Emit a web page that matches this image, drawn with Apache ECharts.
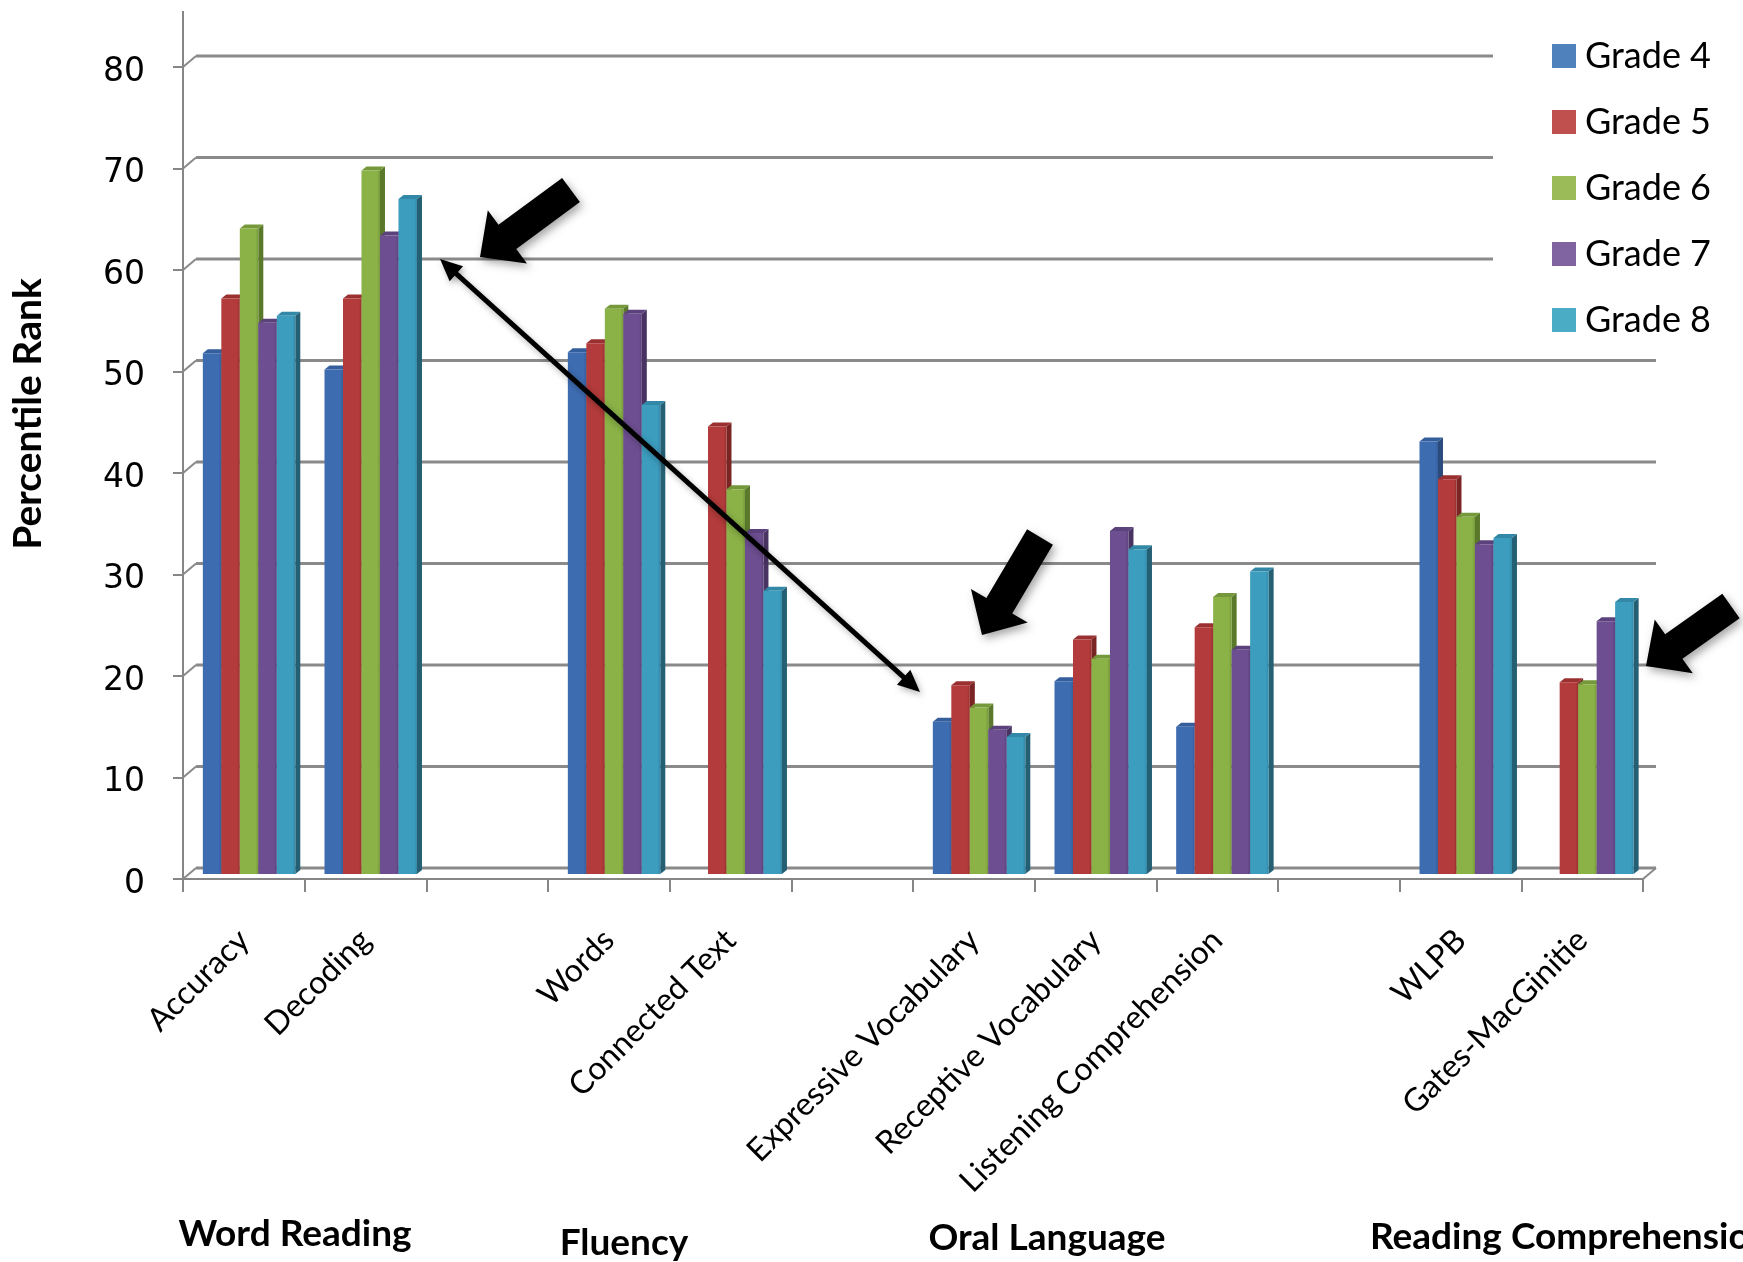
<!DOCTYPE html>
<html>
<head>
<meta charset="utf-8">
<script src="https://cdn.jsdelivr.net/npm/echarts@6/dist/echarts.min.js"></script>
<style>
  html, body { margin: 0; padding: 0; background: #ffffff; }
  #chart { width: 1743px; height: 1262px; }
</style>
</head>
<body>
<div id="chart"></div>
<script>
// Measures on the category axis; empty strings leave a gap between the test groups
const categories = [
  'Accuracy', 'Decoding', '',
  'Words', 'Connected Text', '',
  'Expressive Vocabulary', 'Receptive Vocabulary', 'Listening Comprehension', '',
  'WLPB', 'Gates-MacGinitie'
];

// Percentile rank per grade (null = not tested)
const grade4 = [51.3, 49.7, null, 51.4, null, null, 15.0, 19.0, 14.5, null, 42.6, null];
const grade5 = [56.7, 56.7, null, 52.3, 44.1, null, 18.6, 23.1, 24.3, null, 38.9, 18.9];
const grade6 = [63.6, 69.3, null, 55.7, 37.9, null, 16.4, 21.2, 27.3, null, 35.2, 18.7];
const grade7 = [54.3, 62.9, null, 55.2, 33.6, null, 14.2, 33.8, 22.1, null, 32.5, 24.9];
const grade8 = [55.0, 66.5, null, 46.2, 27.9, null, 13.5, 32.0, 29.8, null, 33.1, 26.8];

const seriesNames = ['Grade 4', 'Grade 5', 'Grade 6', 'Grade 7', 'Grade 8'];
const seriesValues = [grade4, grade5, grade6, grade7, grade8];

// Value-axis ticks
const yTicks = [0, 10, 20, 30, 40, 50, 60, 70, 80];

// Domain headings under the category labels
const groupLabels = ['Word Reading', 'Fluency', 'Oral Language', 'Reading Comprehension'];

// Legend swatch colours and the shaded faces of the 3-D columns
const legendColors = ['#4F81BD', '#C0504D', '#9BBB59', '#8064A2', '#4BACC6'];
const faces = [
  { front: '#3E6CB1', side: '#2A4B7C', top: '#345E9C' },
  { front: '#B33B3B', side: '#7A2424', top: '#9A3030' },
  { front: '#8AB247', side: '#5A792B', top: '#75993A' },
  { front: '#6D4E91', side: '#483363', top: '#5C427C' },
  { front: '#3C9DBF', side: '#245F74', top: '#3288A6' }
];

const DEPTH_X = 13, DEPTH_Y = 11;   // offset of the back wall
const BAR_DX = 5, BAR_DY = 4;        // depth of each column
const BAR_LIFT = 5;                  // columns stand mid-way into the floor

function makeRender(si) {
  return function (params, api) {
    const ci = api.value(0);
    const v = api.value(1);
    const base = api.coord([ci, 0]);
    const top = api.coord([ci, v]);
    const cw = api.size([1, 0])[0];
    const bw = cw * 0.152;
    const shift = cw * 0.043;
    const x0 = base[0] + shift - 2.5 * bw + si * bw;
    const x1 = x0 + bw;
    const yb = base[1] - BAR_LIFT;
    const yt = top[1] - BAR_LIFT;
    const c = faces[si];
    return {
      type: 'group',
      children: [
        { type: 'polygon', shape: { points: [[x1, yt], [x1 + BAR_DX, yt - BAR_DY], [x1 + BAR_DX, yb - BAR_DY], [x1, yb]] }, style: { fill: c.side } },
        { type: 'polygon', shape: { points: [[x0, yt], [x0 + BAR_DX, yt - BAR_DY], [x1 + BAR_DX, yt - BAR_DY], [x1, yt]] }, style: { fill: c.top } },
        { type: 'rect', shape: { x: x0, y: yt, width: bw, height: yb - yt },
          style: { fill: new echarts.graphic.LinearGradient(0, 0, 1, 0, [
            { offset: 0, color: c.front }, { offset: 0.85, color: c.front }, { offset: 1, color: c.top }
          ]) } }
      ]
    };
  };
}

const series = seriesNames.map(function (name, si) {
  const data = [];
  seriesValues[si].forEach(function (v, ci) { if (v != null) data.push([ci, v]); });
  return {
    name: name,
    type: 'custom',
    coordinateSystem: 'cartesian2d',
    renderItem: makeRender(si),
    encode: { x: 0, y: 1 },
    itemStyle: { color: legendColors[si] },
    data: data,
    z: 2
  };
});

const chart = echarts.init(document.getElementById('chart'), null, { renderer: 'canvas' });

chart.setOption({
  backgroundColor: '#ffffff',
  animation: false,
  grid: { left: 183, right: 100, top: 67, bottom: 383, containLabel: false },
  legend: {
    orient: 'vertical',
    left: 1547,
    top: 31,
    itemWidth: 24,
    itemHeight: 24,
    itemGap: 26,
    icon: 'rect',
    data: seriesNames,
    textStyle: { fontFamily: 'Lato', fontSize: 36, color: '#000', lineHeight: 40, padding: [0, 0, 0, 4] }
  },
  xAxis: {
    type: 'category',
    data: categories,
    boundaryGap: true,
    axisLine: { show: true, lineStyle: { color: '#868686', width: 2 } },
    axisTick: { show: true, length: 13, interval: 0, lineStyle: { color: '#868686', width: 2 } },
    axisLabel: { interval: 0, rotate: 45, margin: 56, fontFamily: 'Lato', fontSize: 32, color: '#000' },
    splitLine: { show: false }
  },
  yAxis: {
    type: 'value',
    min: 0,
    max: 80,
    interval: 10,
    axisLine: { show: true, lineStyle: { color: '#868686', width: 2 } },
    axisTick: { show: true, length: 10, lineStyle: { color: '#868686', width: 2 } },
    axisLabel: {
      margin: 38,
      formatter: '{n|{value}}',
      rich: { n: { fontFamily: 'DejaVu Sans', fontSize: 33, color: '#000', padding: [10, 0, 0, 0] } }
    },
    splitLine: { show: false }
  },
  series: series
});

// 3-D walls, floor, headings and callout arrows, placed from the axis scales
function drawDecorations() {
  const g = [];
  const cx0 = chart.convertToPixel({ xAxisIndex: 0 }, 0);
  const cx1 = chart.convertToPixel({ xAxisIndex: 0 }, 1);
  const cw = cx1 - cx0;
  const xl = cx0 - cw / 2;
  const xr = chart.convertToPixel({ xAxisIndex: 0 }, categories.length - 1) + cw / 2;
  const Y = function (v) { return chart.convertToPixel({ yAxisIndex: 0 }, v); };
  const wallStyle = { stroke: '#8a8a8a', lineWidth: 3 };
  const legendEdge = 1493;

  yTicks.forEach(function (t) {
    const yf = Y(t), yb = yf - DEPTH_Y;
    const end = (yb < 340) ? legendEdge : xr + DEPTH_X;
    g.push({ type: 'line', z: 1, shape: { x1: xl + DEPTH_X, y1: yb, x2: end, y2: yb }, style: wallStyle });
    g.push({ type: 'line', z: 1, shape: { x1: xl, y1: yf, x2: xl + DEPTH_X, y2: yb }, style: { stroke: '#8a8a8a', lineWidth: 2 } });
  });
  // right edge of the floor
  g.push({ type: 'line', z: 1, shape: { x1: xr, y1: Y(0), x2: xr + DEPTH_X, y2: Y(0) - DEPTH_Y }, style: { stroke: '#8a8a8a', lineWidth: 2 } });
  // value axis continues above the top tick
  g.push({ type: 'line', z: 1, shape: { x1: xl, y1: Y(80), x2: xl, y2: 11 }, style: { stroke: '#868686', lineWidth: 2 } });

  // axis title
  g.push({ type: 'text', z: 5, x: 28, y: 414, rotation: Math.PI / 2,
    style: { text: 'Percentile Rank', fontFamily: 'Lato', fontWeight: 'bold', fontSize: 39, fill: '#000', align: 'center', verticalAlign: 'middle' } });

  // domain headings
  const heads = [
    { x: 295, y: 1234, align: 'center' },
    { x: 624, y: 1243, align: 'center' },
    { x: 1047, y: 1238, align: 'center' },
    { x: 1370, y: 1237, align: 'left' }
  ];
  groupLabels.forEach(function (txt, i) {
    g.push({ type: 'text', z: 5, x: heads[i].x, y: heads[i].y,
      style: { text: txt, fontFamily: 'Lato', fontWeight: 'bold', fontSize: 37, fill: '#000', align: heads[i].align, verticalAlign: 'middle' } });
  });

  // thick block arrows
  function blockArrow(tail, tip) {
    const dx = tip[0] - tail[0], dy = tip[1] - tail[1];
    const len = Math.hypot(dx, dy);
    const ux = dx / len, uy = dy / len, nx = -uy, ny = ux;
    const sw = 15, hw = 33, hl = 34;
    const bx = tip[0] - ux * hl, by = tip[1] - uy * hl;
    return {
      type: 'polygon', z: 20,
      shape: { points: [
        [tail[0] + nx * sw, tail[1] + ny * sw],
        [bx + nx * sw, by + ny * sw],
        [bx + nx * hw, by + ny * hw],
        [tip[0], tip[1]],
        [bx - nx * hw, by - ny * hw],
        [bx - nx * sw, by - ny * sw],
        [tail[0] - nx * sw, tail[1] - ny * sw]
      ] },
      style: { fill: '#000', shadowBlur: 8, shadowOffsetX: 3, shadowOffsetY: 4, shadowColor: 'rgba(0,0,0,0.35)' }
    };
  }
  g.push(blockArrow([571, 190], [480, 257]));
  g.push(blockArrow([1040, 537], [982, 635]));
  g.push(blockArrow([1731, 606], [1646, 666]));

  // thin double-headed connector
  const a = [440, 259], b = [920, 692];
  const ddx = b[0] - a[0], ddy = b[1] - a[1], dl = Math.hypot(ddx, ddy);
  const ux = ddx / dl, uy = ddy / dl, nx = -uy, ny = ux;
  const hl = 22, hw = 10;
  g.push({ type: 'line', z: 19,
    shape: { x1: a[0] + ux * hl * 0.8, y1: a[1] + uy * hl * 0.8, x2: b[0] - ux * hl * 0.8, y2: b[1] - uy * hl * 0.8 },
    style: { stroke: '#000', lineWidth: 5, shadowBlur: 6, shadowOffsetX: 2, shadowOffsetY: 3, shadowColor: 'rgba(0,0,0,0.3)' } });
  [[a, 1], [b, -1]].forEach(function (p) {
    const tip = p[0], s = p[1];
    const bx = tip[0] + s * ux * hl, by = tip[1] + s * uy * hl;
    g.push({ type: 'polygon', z: 19,
      shape: { points: [[tip[0], tip[1]], [bx + nx * hw, by + ny * hw], [bx - nx * hw, by - ny * hw]] },
      style: { fill: '#000', shadowBlur: 6, shadowOffsetX: 2, shadowOffsetY: 3, shadowColor: 'rgba(0,0,0,0.3)' } });
  });

  chart.setOption({ graphic: { elements: g } });
}
drawDecorations();
</script>
</body>
</html>
